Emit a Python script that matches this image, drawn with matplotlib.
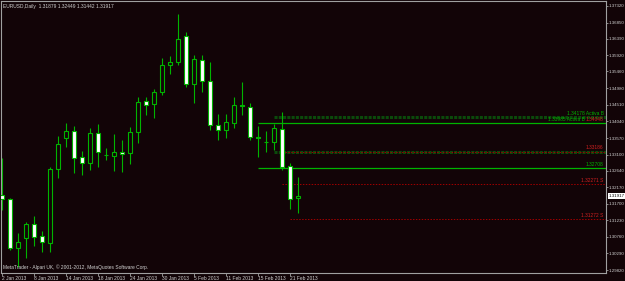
import matplotlib
matplotlib.use('Agg')
import matplotlib.pyplot as plt
from matplotlib.patches import Rectangle
from matplotlib.transforms import blended_transform_factory

# Datas dos candles (pregões de 2 Jan a 22 Feb 2013)
datas = ['2 Jan 2013', '3 Jan 2013', '4 Jan 2013', '7 Jan 2013', '8 Jan 2013',
         '9 Jan 2013', '10 Jan 2013', '11 Jan 2013', '14 Jan 2013', '15 Jan 2013',
         '16 Jan 2013', '17 Jan 2013', '18 Jan 2013', '21 Jan 2013', '22 Jan 2013',
         '23 Jan 2013', '24 Jan 2013', '25 Jan 2013', '28 Jan 2013', '29 Jan 2013',
         '30 Jan 2013', '31 Jan 2013', '1 Feb 2013', '4 Feb 2013', '5 Feb 2013',
         '6 Feb 2013', '7 Feb 2013', '8 Feb 2013', '11 Feb 2013', '12 Feb 2013',
         '13 Feb 2013', '14 Feb 2013', '15 Feb 2013', '18 Feb 2013', '19 Feb 2013',
         '20 Feb 2013', '21 Feb 2013', '22 Feb 2013']

# Preços OHLC
abertura = [1.31952, 1.31839, 1.30447, 1.30731, 1.31129, 1.30788, 1.30589, 1.32691,
            1.33571, 1.33770, 1.33032, 1.32861, 1.33713, 1.33088, 1.33060, 1.33174,
            1.33145, 1.33742, 1.34622, 1.34537, 1.34878, 1.35644, 1.35730, 1.36468,
            1.35105, 1.35786, 1.35190, 1.33940, 1.33798, 1.33997, 1.34508, 1.34452,
            1.33600, 1.33458, 1.33458, 1.33827, 1.32776, 1.31879]
maxima = [1.33003, 1.31867, 1.30873, 1.31186, 1.31356, 1.30930, 1.32740, 1.33628,
          1.33997, 1.33912, 1.33202, 1.33855, 1.33969, 1.33287, 1.33685, 1.33514,
          1.33884, 1.34736, 1.34736, 1.34963, 1.35843, 1.35900, 1.37093, 1.36582,
          1.35928, 1.35928, 1.35730, 1.34253, 1.34253, 1.34736, 1.35162, 1.34565,
          1.33912, 1.33770, 1.33969, 1.34310, 1.32861, 1.32449]
minima = [1.31526, 1.30390, 1.29908, 1.30163, 1.30504, 1.30334, 1.30334, 1.32435,
          1.33316, 1.32577, 1.32520, 1.32662, 1.32748, 1.32946, 1.32634, 1.32606,
          1.32833, 1.33429, 1.34224, 1.34139, 1.34792, 1.35389, 1.35645, 1.35020,
          1.34565, 1.34878, 1.33798, 1.33514, 1.33571, 1.33855, 1.34224, 1.33514,
          1.33032, 1.33174, 1.33230, 1.32662, 1.31555, 1.31442]
fechamento = [1.31839, 1.30447, 1.30618, 1.31129, 1.30760, 1.30618, 1.32691, 1.33401,
              1.33770, 1.33003, 1.32861, 1.33713, 1.33174, 1.33095, 1.33174, 1.33117,
              1.33742, 1.34594, 1.34508, 1.34878, 1.35644, 1.35730, 1.36383, 1.35105,
              1.35815, 1.35190, 1.33940, 1.33798, 1.34026, 1.34508, 1.34480, 1.33600,
              1.33571, 1.33465, 1.33855, 1.32748, 1.31839, 1.31917]

# Escala de preços da direita
precos_escala = [1.37320, 1.36850, 1.36390, 1.35920, 1.35460, 1.34980, 1.34510,
                 1.34040, 1.33570, 1.33100, 1.32640, 1.32170, 1.31700, 1.31230,
                 1.30760, 1.30290, 1.29820]

# Níveis horizontais (ordens / alvos)
niveis = [1.34178, 1.33985, 1.33186, 1.32708, 1.32271, 1.31272]
rotulos_niveis = ['1.34178 Activa B', '1.33985 Activa B', '1.33186', '1.32708',
                  '1.32271 S', '1.31272 S']
inicio_niveis = [34, 32, 35, 32, 35, 36]
nivel_escuro = 1.33170  # linha verde escura sob o 1.33186
rotulo_extra = '1.34048'

# Cores (esquema MetaTrader verde sobre preto)
FUNDO = '#120407'
VERDE = '#00b400'
VERDE_ESCURO = '#0b4a0b'
VERMELHO = '#a00000'
VERMELHO_TXT = '#d02020'
CINZA = '#a0a0a0'
TEXTO = '#d0d0d0'
FONTE = 'Liberation Sans'
TAM = 3.5

fig = plt.figure(figsize=(6.25, 2.81), dpi=100, facecolor=FUNDO)
ax = fig.add_axes([1 / 625, 8 / 281, 605 / 625, 272 / 281], facecolor=FUNDO)

xmax = 75.5
ax.set_xlim(-0.125, xmax)
ax.set_ylim(1.29735, 1.37462)

# Candles
larg = 0.62
for i in range(len(datas)):
    o, h, l, c = abertura[i], maxima[i], minima[i], fechamento[i]
    ax.vlines(i, l, h, color=VERDE, lw=0.8, zorder=2)
    cor = FUNDO if c >= o else 'white'
    base = min(o, c)
    alt = max(abs(c - o), 0.00002)
    ax.add_patch(Rectangle((i - larg / 2, base), larg, alt, facecolor=cor,
                           edgecolor=VERDE, lw=0.8, zorder=3))

# Linhas horizontais
ax.hlines(niveis[0], inicio_niveis[0], xmax, color=VERDE_ESCURO, lw=2.2,
          linestyles=(0, (1, 0.4)), zorder=1)
ax.hlines(nivel_escuro, 34, xmax, color=VERDE_ESCURO, lw=2.2,
          linestyles=(0, (1, 0.4)), zorder=1)
ax.hlines(niveis[1], inicio_niveis[1], xmax, color=VERDE, lw=0.9, zorder=1)
ax.hlines(niveis[3], inicio_niveis[3], xmax, color=VERDE, lw=0.9, zorder=1)
for k in [2, 4, 5]:
    ax.hlines(niveis[k], inicio_niveis[k], xmax, color=VERMELHO, lw=0.7,
              linestyles=(0, (1.5, 1.5)), zorder=1)

# Rótulos dos níveis (o 1.33985 fica à esquerda do rótulo vermelho extra)
cores_rotulos = [VERDE, VERDE, VERMELHO_TXT, VERDE, VERMELHO_TXT, VERMELHO_TXT]
fim_rotulos = [xmax - 0.3, xmax - 2.6, xmax - 0.3, xmax - 0.3, xmax - 0.3, xmax - 0.3]
for nv, rt, cr, fx in zip(niveis, rotulos_niveis, cores_rotulos, fim_rotulos):
    ax.text(fx, nv + 0.0003, rt, ha='right', va='bottom', fontsize=TAM,
            color=cr, family=FONTE, zorder=4)
ax.text(xmax - 0.3, niveis[1] + 0.0003, rotulo_extra, ha='right', va='bottom',
        fontsize=TAM, color=VERMELHO_TXT, family=FONTE, zorder=5)

# Eixos
for s in ax.spines.values():
    s.set_color(CINZA)
    s.set_linewidth(0.8)
ax.yaxis.tick_right()
ax.set_yticks(precos_escala)
ax.set_yticklabels([f'{p:.5f}' for p in precos_escala])
ax.tick_params(axis='y', colors=CINZA, labelcolor=TEXTO, labelsize=3.2,
               length=1.5, width=0.6, pad=0.6)

pos_x = list(range(0, len(datas), 4))
ax.set_xticks(pos_x)
ax.set_xticklabels([datas[i] for i in pos_x], ha='left')
ax.tick_params(axis='x', colors=CINZA, labelcolor=TEXTO, labelsize=TAM,
               length=2, width=0.6, pad=0.3)
for t in ax.get_xticklabels() + ax.get_yticklabels():
    t.set_family(FONTE)

# Preço atual
trans = blended_transform_factory(ax.transAxes, ax.transData)
ax.text(1.004, fechamento[-1], f'{fechamento[-1]:.5f}', transform=trans,
        ha='left', va='center', fontsize=3.2, color='black', family=FONTE,
        bbox=dict(facecolor='white', edgecolor='none', pad=0.5), clip_on=False)

# Cabeçalho e copyright
ax.text(0.003, 0.99, 'EURUSD,Daily  1.31879 1.32449 1.31442 1.31917',
        transform=ax.transAxes, ha='left', va='top', fontsize=TAM, color=TEXTO,
        family=FONTE)
ax.text(0.003, 0.01, 'MetaTrader - Alpari UK, © 2001-2012, MetaQuotes Software Corp.',
        transform=ax.transAxes, ha='left', va='bottom', fontsize=TAM, color=TEXTO,
        family=FONTE)

fig.savefig('out.png', dpi=100, facecolor=FUNDO)
